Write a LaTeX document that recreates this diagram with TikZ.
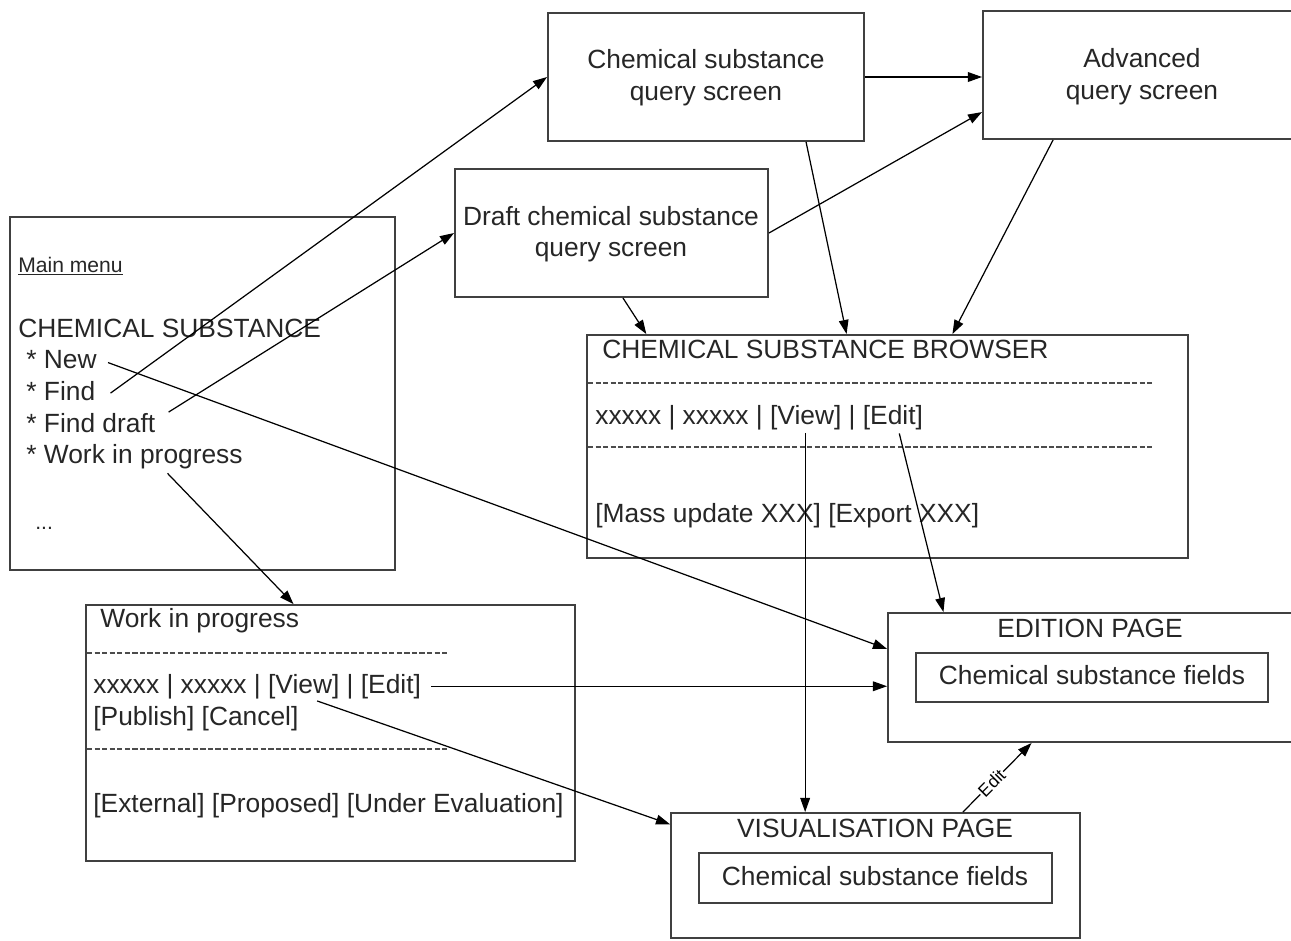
\documentclass[tikz,border=0pt]{standalone}
\usepackage{fontspec}
\setmainfont{Liberation Sans}
\usetikzlibrary{arrows.meta,positioning,fit,calc}

\tikzset{
  box/.style={draw=black!75, line width=1.1pt, inner sep=0pt},
  txt/.style={anchor=base west, inner sep=0pt, text=black!85},
  capt/.style={anchor=base, inner sep=0pt, text=black!85},
  sep/.style={draw=black!70, line width=1pt, dash pattern=on 3pt off 1.3pt},
  link/.style={->, line width=0.7pt},
  smalltxt/.style={font=\fontsize{12}{14}\selectfont},
}

\begin{document}
\begin{tikzpicture}[x=0.02cm, y=-0.02cm, >={Triangle[length=8pt,width=5.5pt]},
    font=\fontsize{15}{18}\selectfont]
  \useasboundingbox (0,0) rectangle (1291,940);

  % main menu
  \node[box, fit={(10,217) (395,570)}] (menu) {};
  \node[txt, smalltxt] (menutitle) at (18,272) {\underline{Main menu}};
  \node[txt] (menuhead) at (18,337) {CHEMICAL SUBSTANCE};
  \node[txt] (menunew) at (26,368) {* New};
  \node[txt] (menufind) at (26,400) {* Find};
  \node[txt] (menudraft) at (26,432) {* Find draft};
  \node[txt] (menuwip) at (26,463) {* Work in progress};
  \node[txt, smalltxt] (menudots) at (35,529) {...};

  % query screens
  \node[box, fit={(548,13) (864,141)}] (query) {};
  \node[capt] (querytext1) at (706,68) {Chemical substance};
  \node[capt] (querytext2) at (706,100) {query screen};
  \node[box, fit={(983,11) (1302,139)}] (advanced) {};
  \node[capt] (advancedtext1) at (1142,67) {Advanced};
  \node[capt] (advancedtext2) at (1142,99) {query screen};
  \node[box, fit={(455,169) (768,297)}] (draft) {};
  \node[capt] (drafttext1) at (611,225) {Draft chemical substance};
  \node[capt] (drafttext2) at (611,256) {query screen};

  % browser
  \node[box, fit={(587,335) (1188,558)}] (browser) {};
  \node[txt] (browsertitle) at (602,358) {CHEMICAL SUBSTANCE BROWSER};
  \draw[sep] (588,383) -- (1153,383);
  \node[txt] (browserrow) at (595,424) {xxxxx | xxxxx | [View] | [Edit]};
  \draw[sep] (588,447) -- (1153,447);
  \node[txt] (browseractions) at (595,522) {[Mass update XXX] [Export XXX]};

  % work in progress
  \node[box, fit={(86,605) (575,861)}] (wipbox) {};
  \node[txt] (wiptitle) at (100,627) {Work in progress};
  \draw[sep] (87,653) -- (448,653);
  \node[txt] (wiprow) at (93,693) {xxxxx | xxxxx | [View] | [Edit]};
  \node[txt] (wipactions) at (93,725) {[Publish] [Cancel]};
  \draw[sep] (87,749) -- (448,749);
  \node[txt] (wipfilters) at (93,812) {[External] [Proposed] [Under Evaluation]};

  % pages
  \node[box, fit={(888,613) (1293,742)}] (edition) {};
  \node[capt] (editiontitle) at (1090,637) {EDITION PAGE};
  \node[box, fit={(916,653) (1268,702)}] (editionfields) {};
  \node[capt] (editionfieldstext) at (1092,684) {Chemical substance fields};
  \node[box, fit={(671,813) (1080,938)}] (visual) {};
  \node[capt] (visualtitle) at (875,837) {VISUALISATION PAGE};
  \node[box, fit={(699,853) (1052,903)}] (visualfields) {};
  \node[capt] (visualfieldstext) at (875,885) {Chemical substance fields};

  \coordinate (bview) at ($(browserrow.south)+(46,3)$);

  % links
  \draw[link] ($(menunew.east)+(11,3.5)$) -- (edition.172);
  \draw[link] ($(menufind.east)+(15,2.5)$) -- (query.west);
  \draw[link] ($(menudraft.east)+(13,-10.5)$) -- (draft.west);
  \draw[link] ($(menuwip.south)+(33,4.5)$) -- (wipbox.106.3);
  \draw[link] (query.east) -- (query.east -| advanced.west);
  \draw[link] (draft.east) -- (advanced.193.4);
  \draw[link] (query.327.4) -- (browser.110);
  \draw[link] (advanced.216.5) -- (browser.60.7);
  \draw[link] (draft.280) -- (browser.155);
  \draw[link] (bview) -- (bview |- visual.north);
  \draw[link] ($(browserrow.south east)+(-24,3.5)$) -- (edition.156);
  \draw[link] ($(wiprow.east)+(10,0)$) -- (wiprow.east -| edition.west);
  \draw[link] ($(wiprow.south)+(60,2)$) -- (visual.166);
  \draw[link] (visual.36.5) -- node[sloped, pos=0.42, fill=white, inner sep=0.5pt, font=\fontsize{10}{12}\selectfont] {Edit} (edition.228);
\end{tikzpicture}
\end{document}
